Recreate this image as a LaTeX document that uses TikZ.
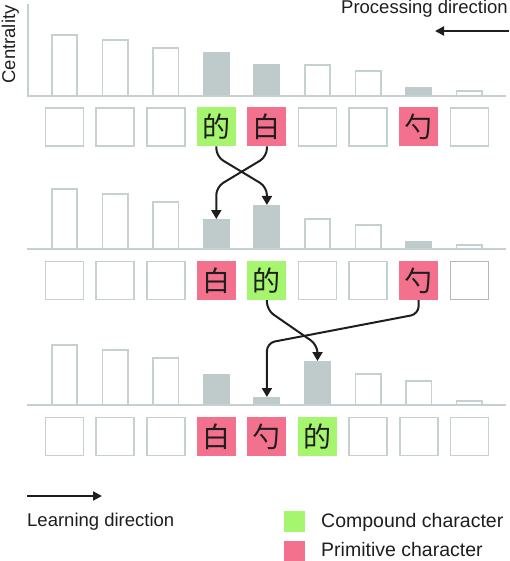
\documentclass[tikz,border=0pt]{standalone}
\usepackage{fontspec}
\setmainfont{Liberation Sans}
\newfontfamily\cjk{Noto Sans CJK SC}
\usetikzlibrary{arrows.meta,calc}
\definecolor{cgreen}{RGB}{166,245,110}
\definecolor{cpink}{RGB}{244,113,142}
\definecolor{cbar}{RGB}{191,202,202}
\definecolor{cline}{RGB}{197,209,209}
\definecolor{cdark}{RGB}{176,186,186}
\definecolor{cink}{RGB}{30,30,30}
\begin{document}
\begin{tikzpicture}[x=1pt,y=-1pt,
  cell/.style={minimum width=39pt,minimum height=39pt,inner sep=0pt,outer sep=0pt,font=\cjk\fontsize{28}{28}\selectfont,text=cink},
  emptycell/.style={cell,draw=cline,line width=1.6pt,fill=white,minimum width=38pt,minimum height=38pt},
  darkcell/.style={emptycell,draw=cdark},
  comp/.style={cell,fill=cgreen},
  prim/.style={cell,fill=cpink},
  barE/.style={draw=cline,line width=1.6pt,fill=white,minimum width=25.5pt,inner sep=0pt,outer sep=0pt,anchor=south},
  barF/.style={fill=cbar,minimum width=27pt,inner sep=0pt,outer sep=0pt,anchor=south},
  axisline/.style={draw=cline,line width=1.6pt},
  link/.style={draw=cink,line width=2pt,rounded corners=8pt,-{Triangle[width=10pt,length=9pt]}},
  dirarrow/.style={draw=cink,line width=2pt,-{Triangle[width=9pt,length=9pt]}},
  lbl/.style={font=\fontsize{18.5}{22}\selectfont,text=cink,inner sep=0pt},
  leglbl/.style={font=\fontsize{19.5}{22}\selectfont,text=cink,inner sep=0pt},
  legsq/.style={minimum width=21pt,minimum height=21pt,inner sep=0pt}
]
\useasboundingbox (0,0) rectangle (509,561);

% bars row 1
\foreach \h/\s [count=\i] in {61/barE,56/barE,48/barE,44/barF,32/barF,31/barE,25/barE,9/barF,5/barE}
  \node[\s,minimum height=\h] (ra\i) at ({64.5+50.6*(\i-1)},96) {};
% bars row 2
\foreach \h/\s [count=\i] in {60/barE,55/barE,47/barE,30/barF,44/barF,30/barE,24/barE,8/barF,4/barE}
  \node[\s,minimum height=\h] (rb\i) at ({64.5+50.6*(\i-1)},249) {};
% bars row 3
\foreach \h/\s [count=\i] in {60/barE,55/barE,47/barE,31/barF,8/barF,44/barF,31/barE,24/barE,4/barE}
  \node[\s,minimum height=\h] (rc\i) at ({64.5+50.6*(\i-1)},405) {};

% axes
\draw[axisline] (28,4) -- (28,96) -- (506,96);
\draw[axisline] (27,249) -- (506,249);
\draw[axisline] (27,405) -- (506,405);

% cells row 1
\foreach \s/\t [count=\i] in {emptycell/{},emptycell/{},emptycell/{},comp/的,prim/白,emptycell/{},emptycell/{},prim/勺,emptycell/{}}
  \node[\s] (ca\i) at ({64.5+50.6*(\i-1)},127) {\t};
% cells row 2
\foreach \s/\t [count=\i] in {emptycell/{},emptycell/{},emptycell/{},prim/白,comp/的,emptycell/{},emptycell/{},prim/勺,darkcell/{}}
  \node[\s] (cb\i) at ({64.5+50.6*(\i-1)},280.5) {\t};
% cells row 3
\foreach \s/\t [count=\i] in {emptycell/{},emptycell/{},emptycell/{},prim/白,prim/勺,comp/的,emptycell/{},emptycell/{},emptycell/{}}
  \node[\s] (cc\i) at ({64.5+50.6*(\i-1)},436.5) {\t};

% connectors
\draw[link] (ca4.south) -- ++(0,10) -- ($(rb5.north)+(0,-18)$) -- (rb5.north);
\draw[link] (ca5.south) -- ++(0,10) -- ($(rb4.north)+(0,-32)$) -- (rb4.north);
\draw[link] (cb5.south) -- ++(0,10) -- ($(rc6.north)+(0,-16)$) -- (rc6.north);
\draw[link] (cb8.south) -- ++(0,14) -- ($(rc5.north)+(0,-54)$) -- (rc5.north);

% labels
\node[lbl,anchor=base west] (proc) at (341,14) {Processing direction};
\coordinate (procA) at (509,31);
\coordinate (procB) at (435,31);
\draw[dirarrow] (procA) -- (procB);
\node[lbl,rotate=90,anchor=base] (cent) at (15,44.5) {Centrality};

\coordinate (learnA) at (27,496);
\coordinate (learnB) at (102,496);
\draw[dirarrow] (learnA) -- (learnB);
\node[lbl,anchor=base west] (learn) at (27,526) {Learning direction};

\node[legsq,fill=cgreen] (lgc) at (294.5,521) {};
\node[legsq,fill=cpink] (lgp) at (294.5,551) {};
\node[leglbl,anchor=base west] (compl) at (321,527) {Compound character};
\node[leglbl,anchor=base west] (priml) at (321,556) {Primitive character};
\end{tikzpicture}
\end{document}
